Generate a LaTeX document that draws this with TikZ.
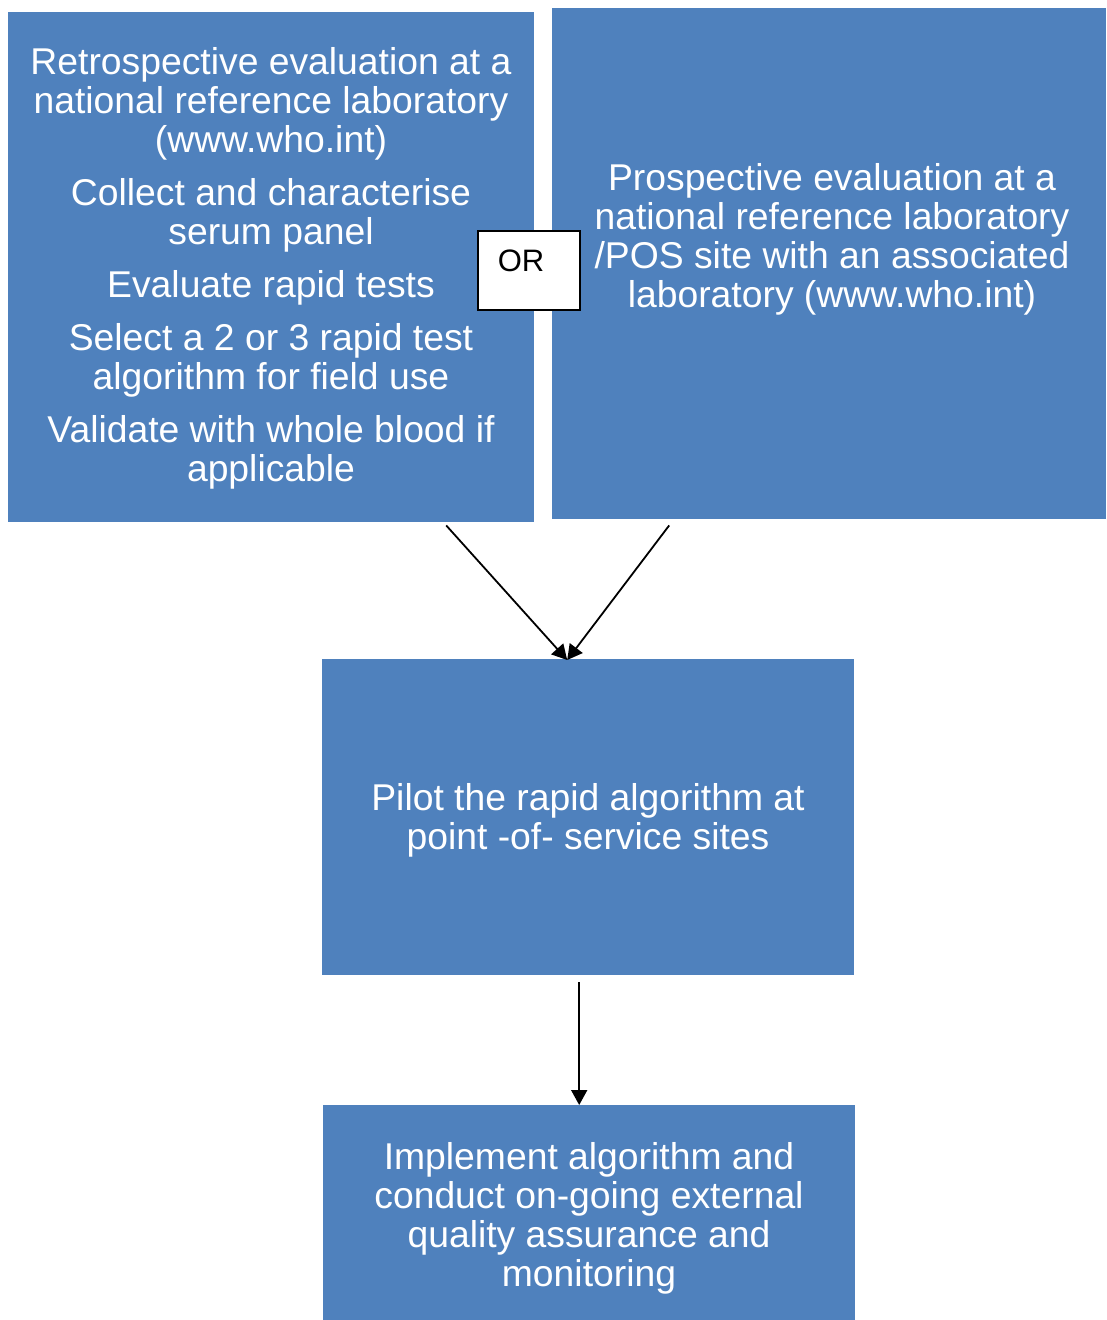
\documentclass[tikz,border=0pt]{standalone}
\usepackage{fontspec}
\setmainfont{Liberation Sans}
\usetikzlibrary{arrows.meta}
\definecolor{boxblue}{HTML}{4F81BD}
\tikzset{
  bluebox/.style={fill=boxblue, draw=none, anchor=north west, inner sep=0pt},
  boxtext/.style={text=white, align=center, font=\fontsize{37.3}{39}\selectfont, inner sep=0pt},
  orbox/.style={fill=white, draw=black, line width=2pt, anchor=north west, inner sep=0pt},
  arr/.style={line width=1.8pt, -{Triangle[length=15pt,width=16pt]}}
}
\begin{document}
\begin{tikzpicture}[x=1pt,y=-1pt]
\useasboundingbox (0,0) rectangle (1106,1320);
% boxes
\node[bluebox, minimum width=526pt, minimum height=510pt] (left) at (8,12) {};
\node[bluebox, minimum width=554pt, minimum height=511pt] (right) at (552,8) {};
\node[bluebox, minimum width=532pt, minimum height=316pt] (mid) at (322,659) {};
\node[bluebox, minimum width=532pt, minimum height=215pt] (bot) at (323,1105) {};
% texts
\node[boxtext] (lefttext) at (271,268) {Retrospective evaluation at a\\national reference laboratory\\(www.who.int)\\[14pt]Collect and characterise\\serum panel\\[14pt]Evaluate rapid tests\\[14pt]Select a 2 or 3 rapid test\\algorithm for field use\\[14pt]Validate with whole blood if\\applicable};
\node[boxtext] (righttext) at (832,239) {Prospective evaluation at a\\national reference laboratory\\/POS site with an associated\\laboratory (www.who.int)};
\node[boxtext] (midtext) at (588,820) {Pilot the rapid algorithm at\\point -of- service sites};
\node[boxtext] (bottext) at (589,1218) {Implement algorithm and\\conduct on-going external\\quality assurance and\\monitoring};
% OR box
\node[orbox, minimum width=102pt, minimum height=79pt] (or) at (477,230) {};
\node[font=\fontsize{31}{34}\selectfont, inner sep=0pt] (ortext) at (521,261) {OR};
% arrows
\draw[arr] ([xshift=175pt,yshift=-3pt]left.south) -- ([xshift=-21pt,yshift=-1pt]mid.north);
\draw[arr] ([xshift=-160pt,yshift=-6pt]right.south) -- ([xshift=-21pt,yshift=-1pt]mid.north);
\draw[arr] ([xshift=-9pt,yshift=-7pt]mid.south) -- ([xshift=-10pt]bot.north);
\end{tikzpicture}
\end{document}
